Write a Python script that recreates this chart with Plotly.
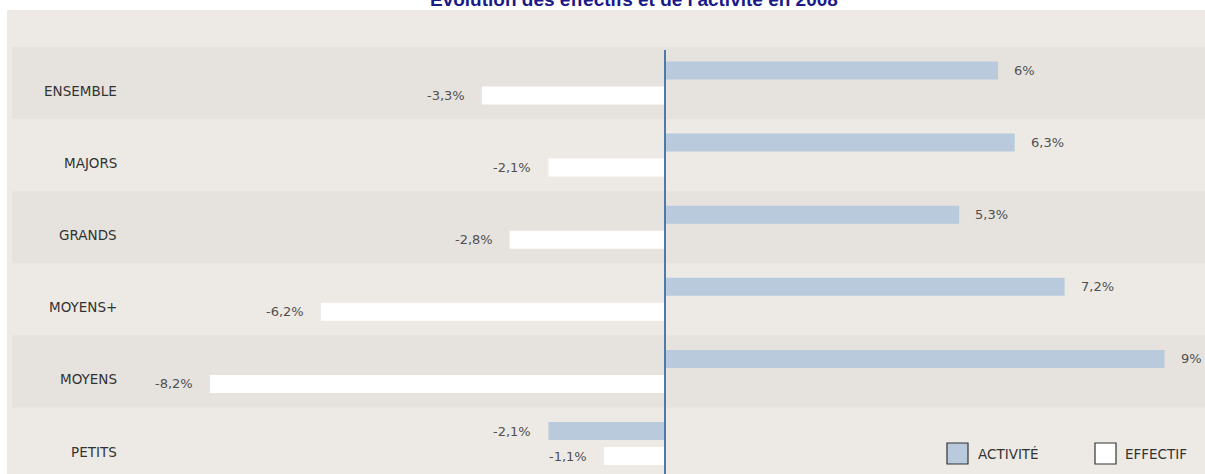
import plotly.graph_objects as go

# ---- data ----
categories = ["ENSEMBLE", "MAJORS", "GRANDS", "MOYENS+", "MOYENS", "PETITS"]
activite = [6.0, 6.3, 5.3, 7.2, 9.0, -2.1]
effectif = [-3.3, -2.1, -2.8, -6.2, -8.2, -1.1]
series_names = ["ACTIVITÉ", "EFFECTIF"]
title_text = "Évolution des effectifs et de l'activité en 2008"

# ---- style ----
W, H = 1205, 474
ML, MT = 7, 10
X0PX = 665.0          # pixel of value 0
PX_PER_UNIT = 55.5
ROW0PX = 83.0         # pixel centre of first category
ROW_PX = 72.1

plot_w = W - ML
plot_h = H - MT
x_min = -(X0PX - ML) / PX_PER_UNIT
x_max = (W - X0PX) / PX_PER_UNIT
y_top = -(ROW0PX - MT) / ROW_PX
y_bot = (H - ROW0PX) / ROW_PX


def px2x(px):
    return (px - X0PX) / PX_PER_UNIT


def py2y(py):
    return (py - ROW0PX) / ROW_PX


C_ACT = "#B8CADB"
C_EFF = "#FFFFFF"
PANEL = "#EDEAE6"
BAND = "#E6E2DE"
FONT = "DejaVu Sans, Roboto, sans-serif"

fig = go.Figure()
fig.add_trace(go.Bar(y=categories, x=activite, orientation="h", name=series_names[0],
                     marker=dict(color=C_ACT, line=dict(width=0)), showlegend=False,
                     hoverinfo="x+y"))
fig.add_trace(go.Bar(y=categories, x=effectif, orientation="h", name=series_names[1],
                     marker=dict(color=C_EFF, line=dict(width=0)), showlegend=False,
                     hoverinfo="x+y"))

shapes = []
for i in range(len(categories)):
    if i % 2 == 0:
        shapes.append(dict(type="rect", layer="below", xref="x", yref="y",
                           x0=px2x(12), x1=x_max, y0=i - 0.5, y1=i + 0.5,
                           fillcolor=BAND, line=dict(width=0)))
# zero line
shapes.append(dict(type="line", xref="x", yref="y", x0=0, x1=0,
                   y0=py2y(50), y1=y_bot, line=dict(color="#4F79A8", width=2)))

annotations = []


def fmt(v):
    s = ("%.1f" % v).replace(".", ",")
    if s.endswith(",0"):
        s = s[:-2]
    return s + "%"


for i, cat in enumerate(categories):
    annotations.append(dict(x=px2x(119), y=i, xref="x", yref="y", text=cat,
                            xanchor="right", yanchor="middle", yshift=-8,
                            showarrow=False, font=dict(family=FONT, size=13.5, color="#333333")))
    for vals, shift in ((activite, 12.5), (effectif, -12.5)):
        v = vals[i]
        annotations.append(dict(x=v, y=i, xref="x", yref="y", text=fmt(v),
                                xanchor="left" if v >= 0 else "right", yanchor="middle",
                                xshift=14 if v >= 0 else -15, yshift=shift,
                                showarrow=False,
                                font=dict(family=FONT, size=13, color="#505050")))

# legend
leg = [(947, 968, C_ACT, series_names[0], 976), (1095, 1116, C_EFF, series_names[1], 1123)]
for x0, x1, col, name, tx in leg:
    shapes.append(dict(type="rect", xref="x", yref="y", x0=px2x(x0), x1=px2x(x1),
                       y0=py2y(443), y1=py2y(464), fillcolor=col,
                       line=dict(color="#333333", width=1.2)))
    annotations.append(dict(x=px2x(tx), y=py2y(453.5), xref="x", yref="y", text=name,
                            xanchor="left", yanchor="middle", showarrow=False,
                            font=dict(family=FONT, size=13.5, color="#333333")))

# title (clipped at the top like in the reference)
annotations.append(dict(x=(634 - ML) / plot_w, y=(H - 12) / plot_h, xref="paper", yref="paper",
                        text="<b>" + title_text + "</b>", xanchor="center", yanchor="bottom",
                        showarrow=False, font=dict(family="Liberation Sans, Arial", size=19,
                                                   color="#1A1A8A")))

fig.update_layout(
    width=W, height=H,
    margin=dict(l=ML, r=0, t=MT, b=0, pad=0),
    paper_bgcolor="#FFFFFF",
    plot_bgcolor=PANEL,
    barmode="group",
    bargap=0.307,
    bargroupgap=0.28,
    xaxis=dict(range=[x_min, x_max], showgrid=False, zeroline=False, showticklabels=False,
               ticks="", fixedrange=True),
    yaxis=dict(range=[y_bot, y_top], showgrid=False, zeroline=False, showticklabels=False,
               ticks="", fixedrange=True, type="category"),
    shapes=shapes,
    annotations=annotations,
    showlegend=False,
)

fig.write_html(
    "out.html",
    config={"displayModeBar": False},
    post_script="document.body.style.margin='0';document.body.style.padding='0';"
                "document.body.style.overflow='hidden';",
)
